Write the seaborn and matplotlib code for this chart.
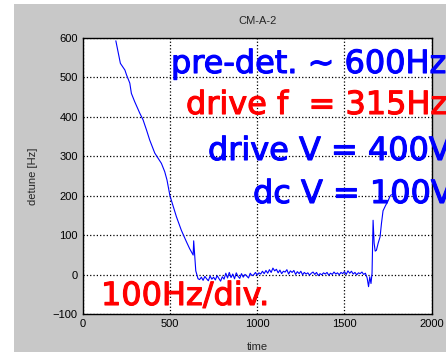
import matplotlib
matplotlib.use("Agg")
import matplotlib.pyplot as plt
import matplotlib.patheffects as pe
import seaborn as sns

# detune trace
time = [190, 216, 242, 251, 270, 279, 298, 327, 346, 366, 384, 413, 432, 451,
        470, 483, 500, 537, 565, 594, 613, 623, 633, 636, 640, 648, 661,
        670, 680, 690, 700, 710, 720, 730, 740, 750, 760, 770, 780, 790, 800,
        810, 820, 830, 840, 850, 860, 870, 880, 890, 900, 910, 920, 930, 940,
        950, 960, 970, 980, 990, 1000, 1010, 1020, 1030, 1040, 1050, 1060,
        1070, 1080, 1090, 1100, 1110, 1120, 1130, 1140, 1150, 1160, 1170,
        1180, 1190, 1200, 1210, 1220, 1230, 1240, 1250, 1260, 1270, 1280,
        1290, 1300, 1310, 1320, 1330, 1340, 1350, 1360, 1370, 1380, 1390,
        1400, 1410, 1420, 1430, 1440, 1450, 1460, 1470, 1480, 1490, 1500,
        1510, 1520, 1530, 1540, 1550, 1560, 1570, 1580, 1590, 1600, 1610,
        1620, 1630, 1638, 1645, 1652, 1658, 1664, 1670, 1676, 1683, 1693,
        1704, 1712, 1721, 1735, 1750, 1760, 1769]
detune = [592, 535, 518, 506, 485, 459, 438, 409, 392, 366, 341, 308, 295, 282,
          261, 240, 200, 147, 113, 84, 66, 58, 50, 86, 60, 10, -10,
          -12, -6, -14, -4, -10, -15, -3, -11, -6, -13, -2, -9, -16, -5,
          -11, 4, -8, 6, -7, 2, -10, 5, -4, -9, 3, -6, 1, -3,
          -8, 4, -2, 0, 6, -1, 5, 2, 9, 3, 11, 4,
          13, 6, 17, 10, 14, 5, 12, 3, 9, 7, 13,
          2, 10, 6, 11, 1, 8, 3, 9, 0, 6, 2,
          5, -1, 4, 7, 1, 6, -2, 3, 0, 5, 2,
          6, -1, 4, 1, 7, 2, 5, 0, 6, 3, 8,
          1, 10, 4, 9, 2, 6, 0, 5, 3, 7, 1,
          4, -8, -30, -5, -22, 4, 138, 80, 60, 62, 80,
          96, 130, 162, 175, 187, 198, 203]

notes = ["pre-det. ~ 600Hz", "drive f  = 315Hz", "drive V = 400V",
         "dc V = 100V", "100Hz/div."]
note_colors = ["#0000ff", "#ff0000", "#0000ff", "#0000ff", "#ff0000"]

sns.set_style("white")
plt.rcParams["font.family"] = ["Liberation Sans", "DejaVu Sans"]

fig = plt.figure(figsize=(4.46, 3.52), dpi=100, facecolor="white")
fig.patches.append(plt.Rectangle((14 / 446, 0), 1, 1 - 4 / 352,
                                 transform=fig.transFigure,
                                 facecolor="#c8c8c8", edgecolor="none",
                                 zorder=-10))
ax = fig.add_axes([0.1854, 0.107, 0.7826, 0.786])
ax.set_facecolor("white")

sns.lineplot(x=time, y=detune, ax=ax, color="#0000ff", linewidth=0.8)

ax.set_xlim(0, 2000)
ax.set_ylim(-100, 600)
ax.set_xticks([0, 500, 1000, 1500, 2000])
ax.set_yticks([-100, 0, 100, 200, 300, 400, 500, 600])
ax.grid(True, color="black", linestyle=":", linewidth=0.9)
ax.tick_params(direction="in", length=3, labelsize=8, colors="black")
for s in ax.spines.values():
    s.set_color("black")
    s.set_linewidth(1.0)
ax.set_title("CM-A-2", fontsize=8, pad=10)
ax.set_xlabel("time", fontsize=8, labelpad=9)
ax.set_ylabel("detune [Hz]", fontsize=8, labelpad=11)

# overlay captions, placed in figure pixels
spots = [(171, 73), (186, 114), (208, 160), (253, 203), (101, 305)]
for txt, col, (px, py) in zip(notes, note_colors, spots):
    fig.text(px / 446, 1 - py / 352, txt, color=col, fontsize=23,
             family="DejaVu Sans", ha="left", va="baseline", zorder=20,
             path_effects=[pe.withStroke(linewidth=0.8, foreground=col)])

fig.savefig("out.png", dpi=100)
